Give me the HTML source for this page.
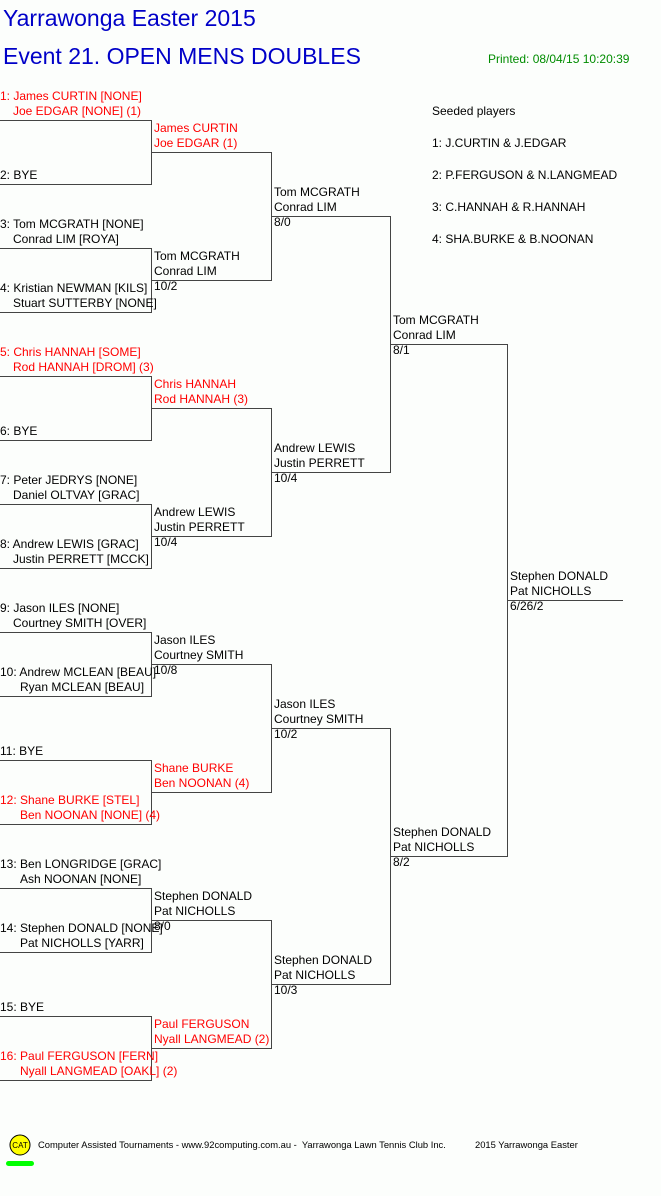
<!DOCTYPE html>
<html><head><meta charset="utf-8"><style>
body{margin:0;width:661px;height:1196px;background:#fcfefc;position:relative;overflow:hidden;font-family:"Liberation Sans",Arial,sans-serif}
.t{position:absolute;font-size:12px;line-height:15px;white-space:nowrap;color:#000;margin-top:1px}
.r{color:#f00}
.i{padding-left:13px}
.j{padding-left:20px}
svg{position:absolute;left:0;top:0}
</style></head><body>
<svg width="661" height="1196">
<g stroke="#444" stroke-width="1" fill="none" shape-rendering="crispEdges">
<path d="M0 120.5H151.5V184.5H0M0 248.5H151.5V312.5H0M0 376.5H151.5V440.5H0M0 504.5H151.5V568.5H0M0 632.5H151.5V696.5H0M0 760.5H151.5V824.5H0M0 888.5H151.5V952.5H0M0 1016.5H151.5V1080.5H0"/>
<path d="M151.5 152.5H271.5V280.5H151.5M151.5 408.5H271.5V536.5H151.5M151.5 664.5H271.5V792.5H151.5M151.5 920.5H271.5V1048.5H151.5"/>
<path d="M271.5 216.5H390.5V472.5H271.5M271.5 728.5H390.5V984.5H271.5"/>
<path d="M390.5 344.5H507.5V856.5H390.5"/>
<path d="M507.5 600.5H623"/>
</g>
<circle cx="20" cy="1145" r="10" fill="#ff0" stroke="#000" stroke-width="1"/>
<text x="20" y="1148" font-family="Liberation Sans" font-size="8" text-anchor="middle">CAT</text>
<rect x="6" y="1161" width="28" height="5" rx="2.5" fill="#0f0"/>
</svg>
<div class="t" style="left:3px;top:3px;font-size:23px;line-height:28px;color:#0000c8">Yarrawonga Easter 2015</div>
<div class="t" style="left:3px;top:41px;font-size:23px;line-height:28px;color:#0000c8">Event 21. OPEN MENS DOUBLES</div>
<div class="t" style="left:488px;top:51px;color:#008c00">Printed: 08/04/15 10:20:39</div>

<div class="t" style="left:432px;top:103px">Seeded players</div>
<div class="t" style="left:432px;top:135px">1: J.CURTIN &amp; J.EDGAR</div>
<div class="t" style="left:432px;top:167px">2: P.FERGUSON &amp; N.LANGMEAD</div>
<div class="t" style="left:432px;top:199px">3: C.HANNAH &amp; R.HANNAH</div>
<div class="t" style="left:432px;top:231px">4: SHA.BURKE &amp; B.NOONAN</div>

<div class="t r" style="left:0;top:88px">1: James CURTIN [NONE]<br><span class="i">Joe EDGAR [NONE] (1)</span></div>
<div class="t" style="left:0;top:167px">2: BYE</div>
<div class="t" style="left:0;top:216px">3: Tom MCGRATH [NONE]<br><span class="i">Conrad LIM [ROYA]</span></div>
<div class="t" style="left:0;top:280px">4: Kristian NEWMAN [KILS]<br><span class="i">Stuart SUTTERBY [NONE]</span></div>
<div class="t r" style="left:0;top:344px">5: Chris HANNAH [SOME]<br><span class="i">Rod HANNAH [DROM] (3)</span></div>
<div class="t" style="left:0;top:423px">6: BYE</div>
<div class="t" style="left:0;top:472px">7: Peter JEDRYS [NONE]<br><span class="i">Daniel OLTVAY [GRAC]</span></div>
<div class="t" style="left:0;top:536px">8: Andrew LEWIS [GRAC]<br><span class="i">Justin PERRETT [MCCK]</span></div>
<div class="t" style="left:0;top:600px">9: Jason ILES [NONE]<br><span class="i">Courtney SMITH [OVER]</span></div>
<div class="t" style="left:0;top:664px">10: Andrew MCLEAN [BEAU]<br><span class="j">Ryan MCLEAN [BEAU]</span></div>
<div class="t" style="left:0;top:743px">11: BYE</div>
<div class="t r" style="left:0;top:792px">12: Shane BURKE [STEL]<br><span class="j">Ben NOONAN [NONE] (4)</span></div>
<div class="t" style="left:0;top:856px">13: Ben LONGRIDGE [GRAC]<br><span class="j">Ash NOONAN [NONE]</span></div>
<div class="t" style="left:0;top:920px">14: Stephen DONALD [NONE]<br><span class="j">Pat NICHOLLS [YARR]</span></div>
<div class="t" style="left:0;top:999px">15: BYE</div>
<div class="t r" style="left:0;top:1048px">16: Paul FERGUSON [FERN]<br><span class="j">Nyall LANGMEAD [OAKL] (2)</span></div>

<div class="t r" style="left:154px;top:120px">James CURTIN<br>Joe EDGAR (1)</div>
<div class="t" style="left:154px;top:248px">Tom MCGRATH<br>Conrad LIM<br>10/2</div>
<div class="t r" style="left:154px;top:376px">Chris HANNAH<br>Rod HANNAH (3)</div>
<div class="t" style="left:154px;top:504px">Andrew LEWIS<br>Justin PERRETT<br>10/4</div>
<div class="t" style="left:154px;top:632px">Jason ILES<br>Courtney SMITH<br>10/8</div>
<div class="t r" style="left:154px;top:760px">Shane BURKE<br>Ben NOONAN (4)</div>
<div class="t" style="left:154px;top:888px">Stephen DONALD<br>Pat NICHOLLS<br>8/0</div>
<div class="t r" style="left:154px;top:1016px">Paul FERGUSON<br>Nyall LANGMEAD (2)</div>

<div class="t" style="left:274px;top:184px">Tom MCGRATH<br>Conrad LIM<br>8/0</div>
<div class="t" style="left:274px;top:440px">Andrew LEWIS<br>Justin PERRETT<br>10/4</div>
<div class="t" style="left:274px;top:696px">Jason ILES<br>Courtney SMITH<br>10/2</div>
<div class="t" style="left:274px;top:952px">Stephen DONALD<br>Pat NICHOLLS<br>10/3</div>

<div class="t" style="left:393px;top:312px">Tom MCGRATH<br>Conrad LIM<br>8/1</div>
<div class="t" style="left:393px;top:824px">Stephen DONALD<br>Pat NICHOLLS<br>8/2</div>

<div class="t" style="left:510px;top:568px">Stephen DONALD<br>Pat NICHOLLS<br>6/26/2</div>

<div class="t" style="left:38px;top:1138px;font-size:9.4px;line-height:12px">Computer Assisted Tournaments - www.92computing.com.au -&nbsp; Yarrawonga Lawn Tennis Club Inc.</div>
<div class="t" style="left:475px;top:1138px;font-size:9.4px;line-height:12px">2015 Yarrawonga Easter</div>
</body></html>
